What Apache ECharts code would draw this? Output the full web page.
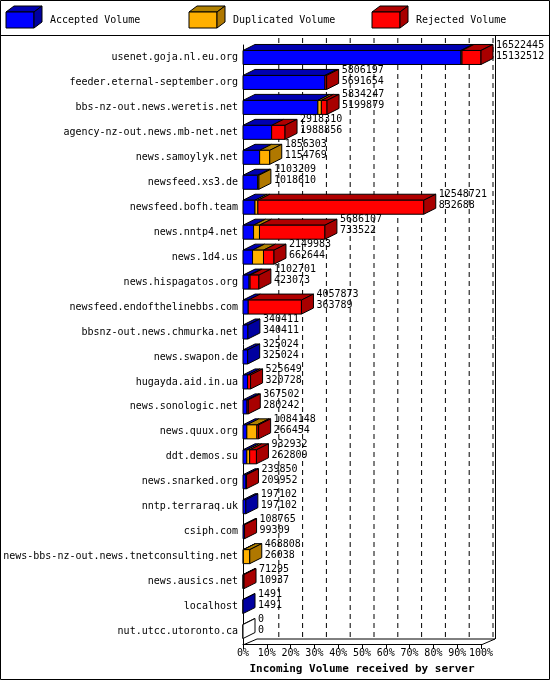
<!DOCTYPE html><html><head><meta charset="utf-8">
<script src="https://cdn.jsdelivr.net/npm/echarts@6/dist/echarts.min.js"></script>
<style>html,body{margin:0;padding:0;background:#fff}#c{width:550px;height:680px}</style></head><body><div id="c"></div>
<script>
const categories=["usenet.goja.nl.eu.org","feeder.eternal-september.org","bbs-nz-out.news.weretis.net","agency-nz-out.news.mb-net.net","news.samoylyk.net","newsfeed.xs3.de","newsfeed.bofh.team","news.nntp4.net","news.1d4.us","news.hispagatos.org","newsfeed.endofthelinebbs.com","bbsnz-out.news.chmurka.net","news.swapon.de","hugayda.aid.in.ua","news.sonologic.net","news.quux.org","ddt.demos.su","news.snarked.org","nntp.terraraq.uk","csiph.com","news-bbs-nz-out.news.tnetconsulting.net","news.ausics.net","localhost","nut.utcc.utoronto.ca"];
const totals=[16522445,5806197,5834247,2918310,1856303,1103209,12548721,5686107,2149983,1102701,4057873,340411,325024,525649,367502,1084148,932932,239850,197102,108765,468808,71295,1491,0];
const accepted=[15132512,5691654,5199879,1988856,1154769,1018610,832688,733522,662644,423073,363789,340411,325024,320728,280242,266454,262809,209952,197102,99309,26038,10937,1491,0];
const duplicated=[70000,0,240000,0,701534,84599,200000,410000,760000,70000,0,0,0,0,0,700000,200000,0,0,0,442770,0,0,0];
const rejected=totals.map((t,i)=>t-accepted[i]-duplicated[i]);
const tickLabels=["0%","10%","20%","30%","40%","50%","60%","70%","80%","90%","100%"];
const maxV=Math.max(...totals);
const tickValues=tickLabels.map((_,k)=>k*maxV/10);
const mono='"DejaVu Sans Mono", monospace';
const DX=12,DY=-6,H=14;
const cols=[{f:'#0000ff',t:'#0000b0',s:'#0000a0'},{f:'#ffb000',t:'#b08000',s:'#b07800'},{f:'#ff0000',t:'#b00000',s:'#a80000'}];
const data=categories.map((c,i)=>[i,accepted[i],duplicated[i],rejected[i],totals[i]]);
const chart=echarts.init(document.getElementById('c'));
function box(x1,x2,yc,col,side){
  const y1=yc-H/2,y2=yc+H/2,st={stroke:'#000',lineWidth:1};
  const els=[{type:'polygon',shape:{points:[[x1,y1],[x1+DX,y1+DY],[x2+DX,y1+DY],[x2,y1]]},style:Object.assign({fill:col.t},st)},
   {type:'rect',shape:{x:x1,y:y1,width:x2-x1,height:H},style:Object.assign({fill:col.f},st)}];
  if(side)els.push({type:'polygon',shape:{points:[[x2,y1],[x2+DX,y1+DY],[x2+DX,y2+DY],[x2,y2]]},style:Object.assign({fill:col.s},st)});
  return els;
}
function legendBox(x,col){
  return [{type:'polygon',shape:{points:[[x,12],[x+8,6],[x+36,6],[x+28,12]]},style:{fill:col.t,stroke:'#000'}},
   {type:'rect',shape:{x:x,y:12,width:28,height:16},style:{fill:col.f,stroke:'#000'}},
   {type:'polygon',shape:{points:[[x+28,12],[x+36,6],[x+36,22],[x+28,28]]},style:{fill:col.s,stroke:'#000'}}];
}
const legNames=["Accepted Volume","Duplicated Volume","Rejected Volume"];
const legX=[6,189,372];
const graphics=[{type:'rect',shape:{x:0.5,y:0.5,width:549,height:679},style:{fill:'none',stroke:'#000'}},
 {type:'line',shape:{x1:0,y1:35.5,x2:550,y2:35.5},style:{stroke:'#000'}},
 {type:'line',shape:{x1:495.5,y1:36,x2:495.5,y2:639},style:{stroke:'#000'}},
 {type:'line',shape:{x1:481,y1:645,x2:495,y2:639},style:{stroke:'#000'}},
 {type:'line',shape:{x1:243,y1:645,x2:257,y2:639},style:{stroke:'#000'}},
 {type:'line',shape:{x1:257,y1:639,x2:495,y2:639},style:{stroke:'#000'}}];
legX.forEach((x,i)=>{graphics.push(...legendBox(x,cols[i]));graphics.push({type:'text',x:x+44,y:20,style:{text:legNames[i],font:'10px '+mono,fill:'#000',verticalAlign:'middle'}});});
chart.setOption({animation:false,
 grid:{left:243,width:238,top:45,height:600},
 graphic:graphics,
 xAxis:{type:'value',min:0,max:maxV,interval:maxV/10,
  axisLine:{show:true,lineStyle:{color:'#000'}},axisTick:{show:true,lineStyle:{color:'#000'}},
  axisLabel:{color:'#000',fontFamily:mono,fontSize:10,margin:4,formatter:(v)=>tickLabels[Math.round(v/maxV*10)]},
  splitLine:{show:false},
  name:'Incoming Volume received by server',nameLocation:'middle',nameGap:20,
  nameTextStyle:{color:'#000',fontFamily:mono,fontWeight:'bold',fontSize:11}},
 yAxis:{type:'category',data:categories,inverse:true,
  axisLine:{show:true,lineStyle:{color:'#000'}},axisTick:{show:false},
  axisLabel:{color:'#000',fontFamily:mono,fontSize:10,margin:5}},
 series:[
 {type:'custom',data:tickValues.slice(1).map(v=>[v,0]),encode:{x:0,y:1},clip:false,z:1,
  renderItem:(params,api)=>{
   const x=api.coord([api.value(0),0])[0]+DX;
   return {type:'line',shape:{x1:x,y1:38,x2:x,y2:639},style:{stroke:'#000',lineDash:[5,4],lineWidth:1}};
  }},
 {type:'custom',data:data,encode:{x:[1,2,3],y:0},clip:false,z:2,
  renderItem:(params,api)=>{
   const i=api.value(0);const a=api.value(1),d=api.value(2),r=api.value(3),t=api.value(4);
   const p0=api.coord([0,i]);const yc=p0[1];
   const segs=[[0,a],[a,a+d],[a+d,a+d+r]];
   let last=-1;segs.forEach((s,k)=>{if(s[1]>s[0])last=k;});
   const els=[];
   if(last<0){els.push(...box(p0[0],p0[0],yc,{f:'#fff',t:'#fff',s:'#fff'},true));}
   segs.forEach((s,k)=>{if(s[1]>s[0]){els.push(...box(api.coord([s[0],i])[0],api.coord([s[1],i])[0],yc,cols[k],k===last));}});
   const xe=api.coord([t,i])[0]+DX+3;
   els.push({type:'text',x:xe,y:yc-7,style:{text:String(t)+'\n'+String(a),font:'10px '+mono,fill:'#000',verticalAlign:'middle',lineHeight:11}});
   return {type:'group',children:els};
  }}]
});
</script></body></html>
